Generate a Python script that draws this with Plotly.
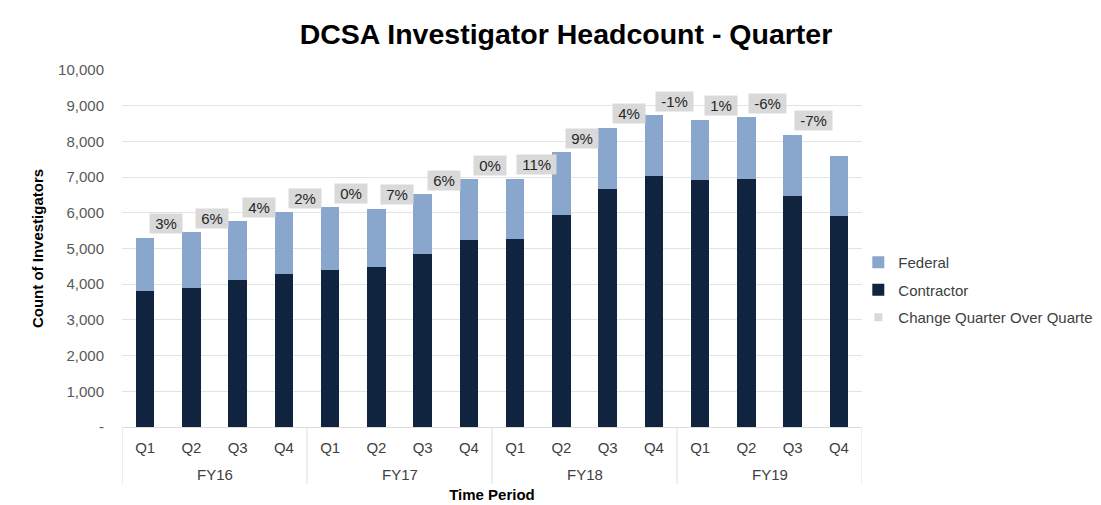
import plotly.graph_objects as go

# ---- data ----
fiscal_years = ["FY16", "FY17", "FY18", "FY19"]
quarters = ["Q1", "Q2", "Q3", "Q4"]
contractor = [3810, 3900, 4110, 4290, 4400, 4480, 4850, 5250,
              5270, 5950, 6680, 7030, 6920, 6940, 6460, 5910]
federal = [1490, 1550, 1660, 1720, 1750, 1640, 1670, 1690,
           1680, 1740, 1700, 1700, 1680, 1730, 1730, 1680]
qoq_change = ["3%", "6%", "4%", "2%", "0%", "7%", "6%", "0%",
              "11%", "9%", "4%", "-1%", "1%", "-6%", "-7%", None]
y_tick_values = [0, 1000, 2000, 3000, 4000, 5000, 6000, 7000, 8000, 9000, 10000]
y_tick_labels = ["-", "1,000", "2,000", "3,000", "4,000", "5,000",
                 "6,000", "7,000", "8,000", "9,000", "10,000"]

categories = [f"{fy} {q}" for fy in fiscal_years for q in quarters]
q_labels = [q for _ in fiscal_years for q in quarters]
totals = [c + f for c, f in zip(contractor, federal)]
nq = len(quarters)

FONT = "Liberation Sans, Arial, sans-serif"
FED_COLOR = "#89a6cd"
CON_COLOR = "#10233f"
LBL_COLOR = "#d9d9d9"
DIV_COLOR = "#dcdcdc"

fig = go.Figure()
fig.add_trace(go.Bar(x=categories, y=contractor, name="Contractor",
                     marker=dict(color=CON_COLOR, line=dict(width=0)),
                     legendrank=2, legendgroup="c"))
fig.add_trace(go.Bar(x=categories, y=federal, name="Federal",
                     marker=dict(color=FED_COLOR, line=dict(width=0)),
                     legendrank=1, legendgroup="f"))
fig.add_trace(go.Scatter(x=[categories[0]], y=[None],
                         mode="markers", name="Change Quarter Over Quarter",
                         marker=dict(symbol="square", size=8, color=LBL_COLOR),
                         legendrank=3, legendgroup="q"))

annotations = []
# quarter-over-quarter change labels
for cat, lab, tot in zip(categories, qoq_change, totals):
    if not lab:
        continue
    annotations.append(dict(
        x=cat, y=tot, xref="x", yref="y", text="\u00a0" + lab + "\u00a0",
        showarrow=False, xanchor="center", yanchor="middle",
        xshift=21, yshift=14, bgcolor=LBL_COLOR, borderpad=1,
        font=dict(family=FONT, size=15, color="#262626")))
# fiscal-year group labels
for g, fy in enumerate(fiscal_years):
    annotations.append(dict(
        x=g * nq + (nq - 1) / 2, y=0, xref="x", yref="paper", text=fy,
        showarrow=False, xanchor="center", yanchor="middle", yshift=-47,
        font=dict(family=FONT, size=15, color="#404040")))

# group dividers below the axis
shapes = []
for g in range(len(fiscal_years) + 1):
    shapes.append(dict(type="line", xref="x", yref="paper",
                       x0=g * nq - 0.5, x1=g * nq - 0.5, y0=0, y1=-0.16,
                       line=dict(color=DIV_COLOR, width=1)))

fig.update_layout(
    width=1093, height=497,
    barmode="stack", bargap=0.6,
    plot_bgcolor="white", paper_bgcolor="white",
    margin=dict(l=114, r=239, t=62, b=78, autoexpand=False),
    title=dict(text="<b>DCSA Investigator Headcount - Quarter</b>",
               x=0.5105, xanchor="center", y=0.948, yanchor="middle",
               font=dict(family=FONT, size=28.5, color="#000000")),
    font=dict(family=FONT, size=15, color="#595959"),
    legend=dict(x=0.995, xanchor="left", y=0.384, yanchor="middle",
                traceorder="grouped", tracegroupgap=5,
                font=dict(family=FONT, size=15, color="#404040"),
                bgcolor="rgba(0,0,0,0)"),
    annotations=annotations,
    shapes=shapes,
)
fig.update_yaxes(range=[0, 10000], tickvals=y_tick_values, ticktext=y_tick_labels,
                 showgrid=True, gridcolor="#e4e4e4", gridwidth=1,
                 zeroline=False, showline=False, ticks="",
                 ticklabelstandoff=17,
                 tickfont=dict(family=FONT, size=15, color="#595959"),
                 title=dict(text="<b>Count of Investigators</b>", standoff=10,
                            font=dict(family=FONT, size=15, color="#000000")))
fig.update_xaxes(type="category", range=[-0.5, len(categories) - 0.5],
                 tickvals=categories, ticktext=q_labels,
                 showgrid=False, zeroline=False, ticks="",
                 showline=True, linecolor=DIV_COLOR, linewidth=1,
                 ticklabelstandoff=7,
                 tickfont=dict(family=FONT, size=15, color="#404040"),
                 title=dict(text="<b>Time Period</b>", standoff=34,
                            font=dict(family=FONT, size=15, color="#000000")))

fig.write_html("out.html")
